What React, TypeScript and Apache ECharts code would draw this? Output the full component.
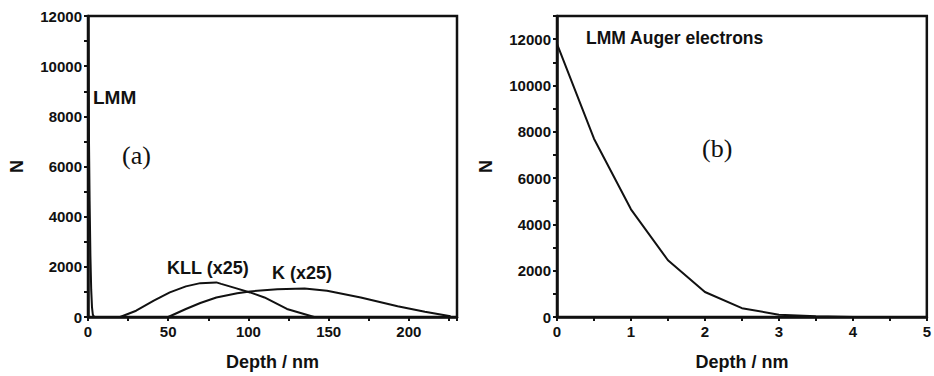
import React, { useEffect, useRef } from "react";
import * as echarts from "echarts";

// Panel (b) / LMM Auger electrons: depth (nm) and N
const lmmDepth = [0, 0.5, 1, 1.5, 2, 2.5, 3, 3.5, 4];
const lmmN = [11800, 7700, 4650, 2450, 1080, 380, 100, 30, 5];

// Panel (a): KLL (x25)
const kllDepth = [20, 30, 41, 51, 61, 70, 80, 83, 92, 101, 110, 124, 141];
const kllN = [0, 250, 650, 980, 1220, 1350, 1380, 1320, 1150, 980, 780, 320, 0];

// Panel (a): K (x25)
const kDepth = [50, 61, 70, 80, 93, 101, 118, 135, 149, 170, 193, 210, 226];
const kN = [0, 320, 560, 780, 950, 1020, 1110, 1140, 1050, 780, 425, 210, 30];

const xTicksA = [0, 50, 100, 150, 200];
const xTicksB = [0, 1, 2, 3, 4, 5];
const yTicks = [0, 2000, 4000, 6000, 8000, 10000, 12000];

const BOLD = "Liberation Sans, Arial, sans-serif";
const INK = "#111";

function pairs(xs: number[], ys: number[]) {
  return xs.map((x, i) => [x, ys[i]]);
}

export default function App() {
  const ref = useRef<HTMLDivElement>(null);
  useEffect(() => {
    document.body.style.margin = "0";
    if (!ref.current) return;
    const chart = echarts.init(ref.current, null, { renderer: "svg" });
    const axisLine = { show: true, onZero: false, lineStyle: { color: INK, width: 2.5 } };
    const axisTick = { show: true, inside: false, length: 4, lineStyle: { color: INK, width: 2 } };
    const labelStyle = { color: INK, fontFamily: BOLD, fontWeight: "bold" as const, fontSize: 15 };
    const nameStyle = { color: INK, fontFamily: BOLD, fontWeight: "bold" as const, fontSize: 18 };
    const mkX = (gi: number, max: number, step: number, ticks: number[]) => ({
      type: "value",
      gridIndex: gi,
      min: 0,
      max,
      interval: step,
      name: "Depth / nm",
      nameLocation: "middle",
      nameGap: 36,
      nameTextStyle: nameStyle,
      axisLine,
      axisTick,
      splitLine: { show: false },
      axisLabel: {
        ...labelStyle,
        margin: 7,
        showMaxLabel: true,
        showMinLabel: true,
        hideOverlap: false,
        formatter: (v: number) => (ticks.some((t) => Math.abs(t - v) < 1e-6) ? String(v) : ""),
      },
    });
    const mkY = (gi: number, max: number) => ({
      type: "value",
      gridIndex: gi,
      min: 0,
      max,
      interval: 1000,
      name: "N",
      nameLocation: "middle",
      nameRotate: 90,
      nameGap: 62,
      nameTextStyle: nameStyle,
      axisLine,
      axisTick,
      splitLine: { show: false },
      axisLabel: {
        ...labelStyle,
        margin: 6,
        showMaxLabel: true,
        formatter: (v: number) => (yTicks.includes(v) ? String(v) : ""),
      },
    });
    const line = (xi: number, data: number[][]) => ({
      type: "line",
      xAxisIndex: xi,
      yAxisIndex: xi,
      data,
      showSymbol: false,
      smooth: false,
      lineStyle: { color: INK, width: 2 },
      z: 3,
    });
    const txt = (text: string, x: number, y: number, size: number, serif = false) => ({
      type: "text",
      x,
      y,
      style: {
        text,
        fill: INK,
        fontSize: size,
        fontFamily: serif ? "Liberation Serif, Times New Roman, serif" : BOLD,
        fontWeight: serif ? "normal" : "bold",
        verticalAlign: "middle",
        align: "left",
      },
    });
    chart.setOption({
      animation: false,
      backgroundColor: "#fff",
      grid: [
        { left: 88, top: 16, width: 369, height: 302, show: true, borderColor: INK, borderWidth: 2.5, backgroundColor: "transparent" },
        { left: 557, top: 16, width: 370, height: 301, show: true, borderColor: INK, borderWidth: 2.5, backgroundColor: "transparent" },
      ],
      xAxis: [mkX(0, 230, 25, xTicksA), mkX(1, 5, 0.5, xTicksB)],
      yAxis: [mkY(0, 12000), mkY(1, 13000)],
      series: [
        line(0, pairs(lmmDepth, lmmN)),
        line(0, pairs(kllDepth, kllN)),
        line(0, pairs(kDepth, kN)),
        line(1, pairs(lmmDepth, lmmN)),
      ],
      graphic: [
        txt("LMM", 93, 97, 19),
        txt("(a)", 122, 155, 26, true),
        txt("KLL (x25)", 167, 268, 18),
        txt("K (x25)", 272, 273, 18),
        txt("LMM Auger electrons", 586, 38, 17.5),
        txt("(b)", 702, 148, 26, true),
      ],
    });
    return () => chart.dispose();
  }, []);
  return <div ref={ref} style={{ width: 934, height: 376 }} />;
}
